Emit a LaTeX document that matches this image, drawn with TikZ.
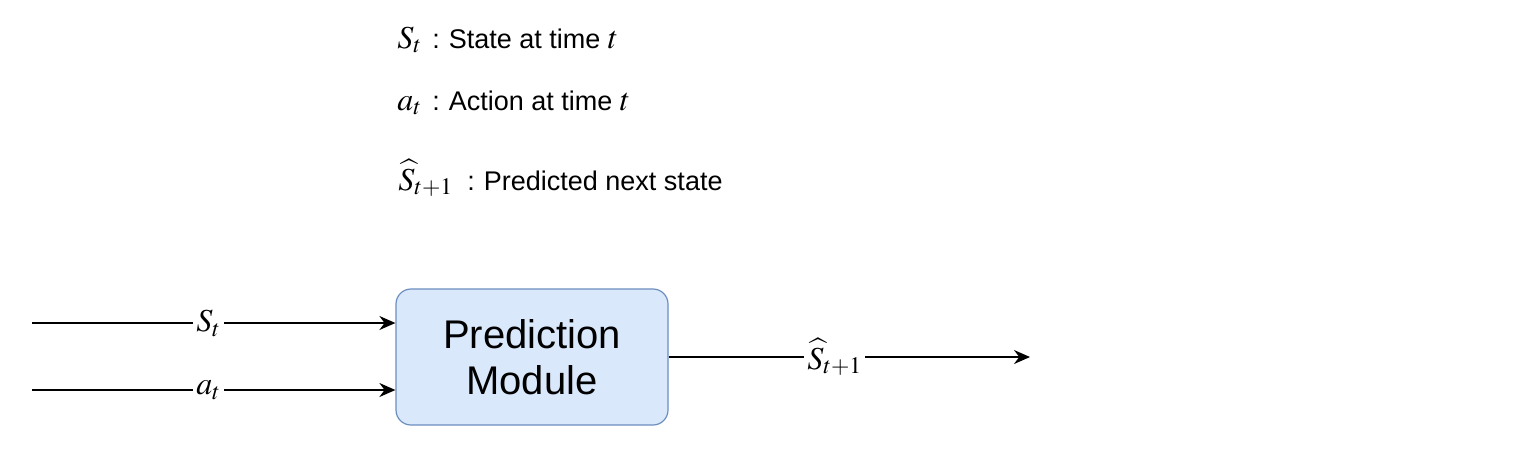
\documentclass[tikz,border=0pt]{standalone}
\usepackage{mathptmx}
\usepackage{fontspec}
\setmainfont{Liberation Sans}
\usetikzlibrary{arrows.meta}
\definecolor{boxfill}{HTML}{DAE8FC}
\definecolor{boxdraw}{HTML}{6C8EBF}
\newcommand{\mathsz}{\fontsize{16}{18}\selectfont}
\begin{document}
\begin{tikzpicture}[x=0.5pt,y=-0.5pt,
  module/.style={draw=boxdraw, fill=boxfill, rounded corners=7.5pt, line width=0.6pt,
    minimum width=136pt, minimum height=68pt, align=center, inner sep=0pt,
    font=\fontsize{20}{23}\selectfont},
  lbl/.style={fill=white, inner sep=1.5pt, font=\mathsz},
  legend/.style={anchor=base west, inner sep=0pt, font=\fontsize{13.5}{16}\selectfont},
  flow/.style={line width=0.8pt, -{Stealth[length=8pt,width=7pt]}}]
\useasboundingbox (0,0) rectangle (1524,452);
\node[module] (pm) at (532,357) {Prediction\\Module};
% legend
\node[legend] (l1) at (397,48) {\makebox[17.5pt][l]{\mathsz$S_t$}:\hspace{4.5pt}State at time {\mathsz$t$}};
\node[legend] (l2) at (397,110) {\makebox[17.5pt][l]{\mathsz$a_t$}:\hspace{4.5pt}Action at time {\mathsz$t$}};
\node[legend] (l3) at (398,190) {\makebox[34.5pt][l]{\mathsz$\widehat{S}_{t+1}$}:\hspace{4.5pt}Predicted next state};
% inputs
\coordinate (s0) at (32,323);
\coordinate (a0) at (32,390);
\coordinate (o1) at (1030,357);
\draw[flow] (s0) -- (pm.west |- s0) node[lbl, pos=0.486] (ls) {$S_t$};
\draw[flow] (a0) -- (pm.west |- a0) node[lbl, pos=0.486] (la) {$a_t$};
\draw[flow] (pm.east |- o1) -- (o1) node[lbl, pos=0.46] (lo) {$\widehat{S}_{t+1}$};
\end{tikzpicture}
\end{document}
